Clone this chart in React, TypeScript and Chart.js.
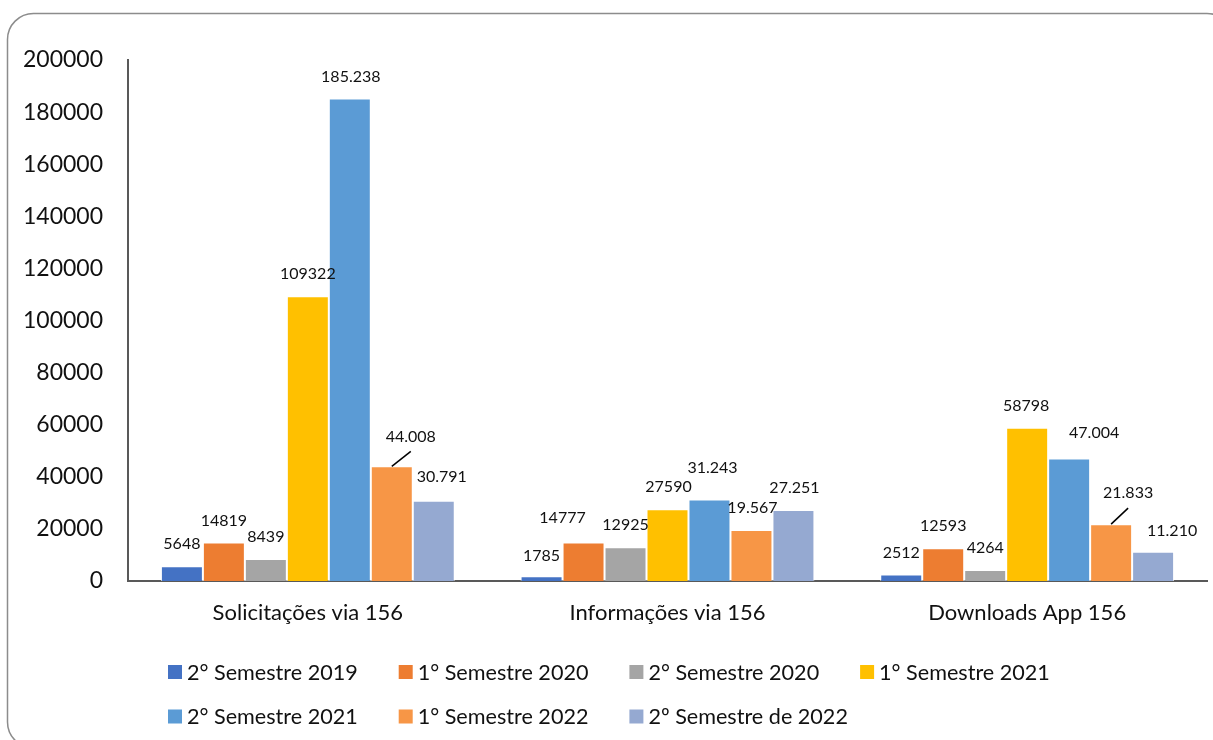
import React, { useEffect, useRef } from 'react';
import { Chart, registerables } from 'chart.js';

Chart.register(...registerables);

// ---------- data ----------
const CATEGORIES = ['Solicitações via 156', 'Informações via 156', 'Downloads App 156'];

const SERIES_NAMES = [
  '2° Semestre 2019',
  '1° Semestre 2020',
  '2° Semestre 2020',
  '1° Semestre 2021',
  '2° Semestre 2021',
  '1° Semestre 2022',
  '2º Semestre de 2022',
];

const S2_2019 = [5648, 1785, 2512];
const S1_2020 = [14819, 14777, 12593];
const S2_2020 = [8439, 12925, 4264];
const S1_2021 = [109322, 27590, 58798];
const S2_2021 = [185238, 31243, 47004];
const S1_2022 = [44008, 19567, 21833];
const S2_2022_ = [30791, 27251, 11210];

const SERIES_VALUES = [S2_2019, S1_2020, S2_2020, S1_2021, S2_2021, S1_2022, S2_2022_];

// whether the data label uses "." as thousands separator (as in the source)
const DOTTED_LABELS = [false, false, false, false, true, true, true];

const Y_MIN = 0;
const Y_MAX = 200000;
const Y_STEP = 20000;

// ---------- styles ----------
const COLORS = ['#4472C4', '#ED7D31', '#A5A5A5', '#FFC000', '#5B9BD5', '#F79646', '#95A9D1'];
const FONT = 'Lato, "Noto Sans", sans-serif';
const TEXT = '#111111';

// label nudges (dx, dy) relative to default position above bar
const LABEL_NUDGES: [number, number][][] = [
  [[0, 0], [0, 1], [0, 0]],
  [[0, 0], [-21, -3], [0, 0]],
  [[0, 0], [0, 0], [0, 0]],
  [[0, 0], [1, 0], [-1, 0]],
  [[1, 0], [3, -10], [25, -4]],
  [[19, -8], [1, 0], [17, -9]],
  [[8, -2], [1, 0], [19, 1]],
];
const LEADERS: [number, number][] = [[5, 0], [5, 2]];

function fmt(v: number, dotted: boolean): string {
  const s = String(Math.round(v));
  return dotted ? s.replace(/\B(?=(\d{3})+(?!\d))/g, '.') : s;
}

const framePlugin = {
  id: 'frame',
  beforeDraw(chart: any) {
    const ctx = chart.ctx;
    ctx.save();
    ctx.fillStyle = '#ffffff';
    ctx.fillRect(0, 0, chart.width, chart.height);
    const l = 7.5, t = 13.5, r = 1233, b = 748, rad = 26;
    ctx.beginPath();
    ctx.moveTo(l + rad, t);
    ctx.lineTo(r - rad, t);
    ctx.arcTo(r, t, r, t + rad, rad);
    ctx.lineTo(r, b - rad);
    ctx.arcTo(r, b, r - rad, b, rad);
    ctx.lineTo(l + rad, b);
    ctx.arcTo(l, b, l, b - rad, rad);
    ctx.lineTo(l, t + rad);
    ctx.arcTo(l, t, l + rad, t, rad);
    ctx.closePath();
    ctx.strokeStyle = '#8c8c8c';
    ctx.lineWidth = 1.5;
    ctx.stroke();
    ctx.restore();
  },
};

const labelsPlugin = {
  id: 'barLabels',
  afterDatasetsDraw(chart: any) {
    const ctx = chart.ctx;
    ctx.save();
    ctx.font = `16px ${FONT}`;
    ctx.fillStyle = TEXT;
    ctx.textAlign = 'center';
    ctx.textBaseline = 'middle';
    chart.data.datasets.forEach((ds: any, di: number) => {
      const meta = chart.getDatasetMeta(di);
      meta.data.forEach((el: any, i: number) => {
        const [dx, dy] = LABEL_NUDGES[di][i];
        const cx = el.x + dx;
        const cy = el.y - 22 + dy;
        ctx.fillText(fmt(ds.data[i], DOTTED_LABELS[di]), cx, cy);
        if (LEADERS.some(([a, b]) => a === di && b === i)) {
          ctx.beginPath();
          ctx.moveTo(el.x, el.y);
          ctx.lineTo(cx, cy + 15);
          ctx.strokeStyle = '#000';
          ctx.lineWidth = 1.5;
          ctx.stroke();
        }
      });
    });
    ctx.restore();
  },
};

const legendPlugin = {
  id: 'gridLegend',
  afterDraw(chart: any) {
    const ctx = chart.ctx;
    ctx.save();
    ctx.font = `21.6px ${FONT}`;
    ctx.textAlign = 'left';
    ctx.textBaseline = 'middle';
    chart.data.datasets.forEach((ds: any, i: number) => {
      const col = i % 4;
      const row = Math.floor(i / 4);
      const x = 168 + col * 230.7;
      const y = 672 + row * 44.5;
      ctx.fillStyle = ds.backgroundColor;
      ctx.fillRect(x, y - 7, 14, 14);
      ctx.fillStyle = TEXT;
      ctx.fillText(ds.label, x + 19, y + 1);
    });
    ctx.restore();
  },
};

export default function App() {
  const ref = useRef<HTMLCanvasElement | null>(null);

  useEffect(() => {
    if (!ref.current) return;
    const chart = new Chart(ref.current, {
      type: 'bar',
      data: {
        labels: CATEGORIES,
        datasets: SERIES_VALUES.map((vals, i) => ({
          label: SERIES_NAMES[i],
          data: vals,
          backgroundColor: COLORS[i],
          borderColor: 'rgba(255,255,255,0.8)',
          borderWidth: 1,
          categoryPercentage: 0.817,
          barPercentage: 1,
        })),
      },
      options: {
        responsive: false,
        animation: false,
        devicePixelRatio: 1,
        layout: { padding: { top: 60, left: 0, right: 6, bottom: 0 } },
        plugins: {
          legend: { display: false },
          tooltip: { enabled: false },
          title: { display: false },
        },
        scales: {
          x: {
            grid: { display: false, drawTicks: false },
            border: { display: true, color: '#595959', width: 2 },
            ticks: {
              color: TEXT,
              font: { family: FONT, size: 22 },
              padding: 19,
              maxRotation: 0,
            },
            afterFit: (s: any) => {
              s.height = 159;
            },
          },
          y: {
            min: Y_MIN,
            max: Y_MAX,
            grid: { display: false, drawTicks: false },
            border: { display: true, color: '#595959', width: 2 },
            ticks: {
              stepSize: Y_STEP,
              color: TEXT,
              font: { family: FONT, size: 23 },
              padding: 25,
              callback: (v: any) => String(v),
            },
            afterFit: (s: any) => {
              s.width = 128;
            },
          },
        },
      },
      plugins: [framePlugin, labelsPlugin, legendPlugin],
    });
    return () => chart.destroy();
  }, []);

  return (
    <div style={{ position: 'absolute', left: 0, top: 0, width: 1213, height: 740 }}>
      <canvas ref={ref} width={1213} height={740} style={{ display: 'block' }} />
    </div>
  );
}
